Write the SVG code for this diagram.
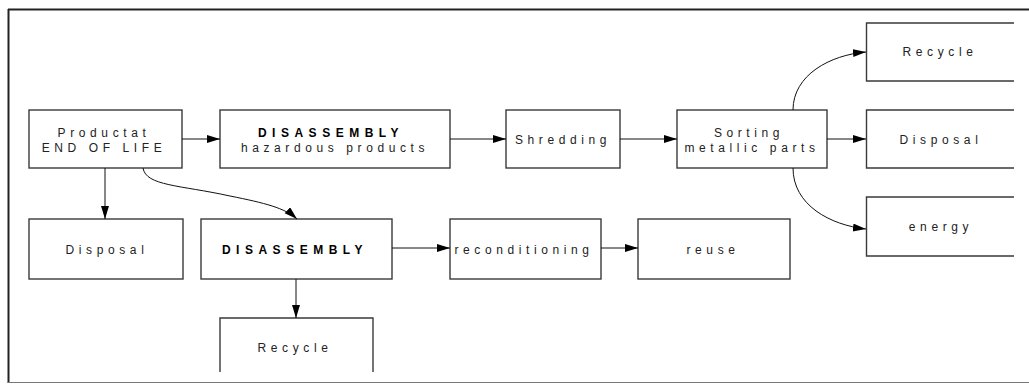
<svg xmlns="http://www.w3.org/2000/svg" width="1029" height="384" viewBox="0 0 1029 384">
<style>
.box{fill:none;stroke:#3a3a3a;stroke-width:1.4}
.c{fill:none;stroke:#111;stroke-width:1}
text{font-family:"Liberation Sans",Arial,sans-serif;font-size:12px;fill:#222;text-anchor:middle;letter-spacing:4.6px}
.b{font-weight:bold;letter-spacing:5.5px;fill:#000}
</style>
<defs>
<marker id="ah" markerUnits="userSpaceOnUse" markerWidth="14" markerHeight="10" refX="13" refY="4" orient="auto">
<path d="M0,0 L13,4 L0,8 z" fill="#000"/>
</marker>
</defs>
<rect width="1029" height="384" fill="#fff"/>
<g id="frame">
<line x1="8.5" y1="9" x2="8.5" y2="383" stroke="#222" stroke-width="2"/>
<line x1="8" y1="9.5" x2="1029" y2="9.5" stroke="#222" stroke-width="2"/>
<line x1="8" y1="382.5" x2="1029" y2="382.5" stroke="#777" stroke-width="1"/>
</g>
<g id="n-product"><rect class="box" x="29" y="110" width="153" height="58"/><text x="104" y="137">Productat</text><text x="104" y="152">END OF LIFE</text></g>
<g id="n-dis-haz"><rect class="box" x="220" y="110" width="230" height="58"/><text class="b" x="331" y="137">DISASSEMBLY</text><text x="335" y="152">hazardous products</text></g>
<g id="n-shred"><rect class="box" x="506" y="110" width="114" height="58"/><text x="563" y="144">Shredding</text></g>
<g id="n-sort"><rect class="box" x="677" y="110" width="150" height="58"/><text x="749" y="137">Sorting</text><text x="752" y="152">metallic parts</text></g>
<g id="n-recycle-r"><path class="box" d="M1014,23 H866.5 V81 H1014"/><text x="940" y="56">Recycle</text></g>
<g id="n-disposal-r"><path class="box" d="M1014,110 H866.5 V168 H1014"/><text x="941" y="144">Disposal</text></g>
<g id="n-energy"><path class="box" d="M1014,197 H866.5 V256 H1014"/><text x="941" y="231">energy</text></g>
<g id="n-disposal"><rect class="box" x="29" y="219" width="154" height="60"/><text x="107" y="254">Disposal</text></g>
<g id="n-dis"><rect class="box" x="201" y="219" width="191" height="60"/><text class="b" x="295" y="254">DISASSEMBLY</text></g>
<g id="n-recond"><rect class="box" x="450" y="219" width="151" height="60"/><text x="524" y="254">reconditioning</text></g>
<g id="n-reuse"><rect class="box" x="638" y="219" width="152" height="60"/><text x="713" y="254">reuse</text></g>
<g id="n-recycle-b"><path class="box" d="M220,372 V318 H373 V372"/><text x="295" y="352">Recycle</text></g>
<g id="connectors">
<line class="c" x1="182" y1="139" x2="220" y2="139" marker-end="url(#ah)"/>
<line class="c" x1="450" y1="139" x2="506" y2="139" marker-end="url(#ah)"/>
<line class="c" x1="620" y1="139" x2="677" y2="139" marker-end="url(#ah)"/>
<line class="c" x1="827" y1="139" x2="866" y2="139" marker-end="url(#ah)"/>
<path class="c" d="M793,110 C793,75 830,55 866,52" marker-end="url(#ah)"/>
<path class="c" d="M793,168 C793,205 830,225 866,229" marker-end="url(#ah)"/>
<line class="c" x1="105" y1="168" x2="105" y2="219" marker-end="url(#ah)"/>
<path class="c" d="M143,168 C146,186 180,185 230,196 C265,203 285,208 297,219" marker-end="url(#ah)"/>
<line class="c" x1="296" y1="279" x2="296" y2="318" marker-end="url(#ah)"/>
<line class="c" x1="392" y1="248" x2="450" y2="248" marker-end="url(#ah)"/>
<line class="c" x1="601" y1="248" x2="638" y2="248" marker-end="url(#ah)"/>
</g>
</svg>
